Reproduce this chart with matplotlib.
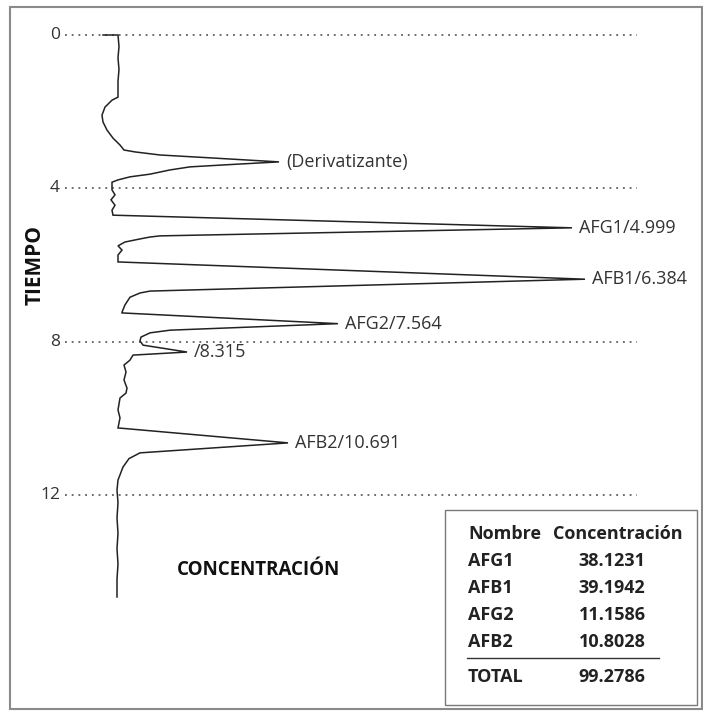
import matplotlib
matplotlib.use("Agg")
import matplotlib.pyplot as plt
from matplotlib.patches import Rectangle

# ---- data -------------------------------------------------------------
# chromatogram trace: retention time (min) vs detector signal (arbitrary units)
time_min = [0.00, 0.00, 0.30, 0.60, 0.90, 1.20, 1.62, 1.70, 1.88, 2.09, 2.27, 2.48,
            2.69, 2.87, 3.00, 3.05, 3.13, 3.20, 3.31, 3.38, 3.44, 3.52, 3.63, 3.70,
            3.78, 3.84, 4.04, 4.17, 4.30, 4.44, 4.57, 4.70, 5.03, 5.24, 5.27, 5.32,
            5.40, 5.50, 5.61, 5.74, 5.92, 6.37, 6.68, 6.73, 6.84, 7.04, 7.23, 7.25,
            7.53, 7.70, 7.77, 7.88, 7.98, 8.09, 8.27, 8.35, 8.48, 8.61, 8.79, 9.00,
            9.21, 9.34, 9.47, 9.78, 9.99, 10.25, 10.64, 10.90, 11.05, 11.27, 11.61, 11.87,
            12.20, 12.60, 13.00, 13.40, 13.80, 14.20, 14.66]
signal = [-14, 1, 2, 1, 2, 1, 1, -5, -12, -15, -14, -10,
          -4, 3, 7, 18, 43, 90, 162, 113, 73, 53, 33, 13,
          1, -5, -5, -2, -6, -2, -5, -4, 455, 43, 33, 23,
          8, 1, 5, 1, 1, 468, 33, 23, 13, 8, 5, 5,
          221, 53, 33, 24, 23, 26, 70, 16, 13, 7, 9, 7,
          10, 9, 3, 1, 3, 1, 171, 23, 12, 6, 1, 0,
          1, 0, 1, 0, 1, 0, 0]

peak_time = [3.31, 5.03, 6.37, 7.53, 8.27, 10.64]
peak_signal = [162, 455, 468, 221, 70, 171]
peak_labels = ["(Derivatizante)", "AFG1/4.999", "AFB1/6.384", "AFG2/7.564",
               "/8.315", "AFB2/10.691"]

time_ticks = [0, 4, 8, 12]

table_names = ["AFG1", "AFB1", "AFG2", "AFB2"]
table_conc = ["38.1231", "39.1942", "11.1586", "10.8028"]
table_total = "99.2786"

# ---- figure -----------------------------------------------------------
W, H = 703, 712
fig = plt.figure(figsize=(W / 100, H / 100), dpi=100)
plt.rcParams['font.family'] = ['Open Sans', 'DejaVu Sans']

ax = fig.add_axes([0, 0, 1, 1])
ax.set_xlim(-117, 586)
ax.set_ylim(17.66, -0.913)
ax.axis('off')

def fx(px):
    return px / W

def fy(py):
    return 1 - py / H

# outer frame
fig.patches.append(Rectangle((fx(10), fy(709)), fx(702) - fx(10), fy(7) - fy(709),
                             transform=fig.transFigure, fill=False,
                             edgecolor='#8a8a8a', lw=1.5))

# dotted time grid lines + labels
for t in time_ticks:
    ax.plot([-52, 520], [t, t], color='#444444', lw=1.1,
            linestyle=(0, (1.2, 3.2)))
    ax.text(-57, t, str(t), ha='right', va='center', fontsize=12.5,
            color='#333333')

# trace
ax.plot(signal, time_min, color='#222222', lw=1.1, solid_joinstyle='miter')

# peak labels
for t, s, lab in zip(peak_time, peak_signal, peak_labels):
    ax.text(s + 7, t, lab, ha='left', va='center', fontsize=13,
            color='#333333')

# axis titles
fig.text(fx(35), fy(265), "TIEMPO", rotation=90, ha='center', va='center',
         fontsize=15, fontweight='bold', color='#111111')
fig.text(fx(258), fy(570), "CONCENTRACIÓN", ha='center', va='center',
         fontsize=13.5, fontweight='bold', color='#111111')

# results table
fig.patches.append(Rectangle((fx(445), fy(705)), fx(697) - fx(445), fy(510) - fy(705),
                             transform=fig.transFigure, fill=False,
                             edgecolor='#7a7a7a', lw=1.0))
tkw = dict(fontsize=13, fontweight='bold', color='#222222', va='center')
fig.text(fx(468), fy(534), "Nombre", ha='left', **tkw)
fig.text(fx(618), fy(534), "Concentración", ha='center', **tkw)
row_y = [561, 588, 615, 642]
for y, n, c in zip(row_y, table_names, table_conc):
    fig.text(fx(468), fy(y), n, ha='left', **tkw)
    fig.text(fx(612), fy(y), c, ha='center', **tkw)
fig.add_artist(plt.Line2D([fx(467), fx(659)], [fy(658), fy(658)],
                          transform=fig.transFigure, color='#333333', lw=1.0))
fig.text(fx(468), fy(677), "TOTAL", ha='left', **tkw)
fig.text(fx(612), fy(677), table_total, ha='center', **tkw)

fig.savefig("out.png", dpi=100, facecolor='white')
